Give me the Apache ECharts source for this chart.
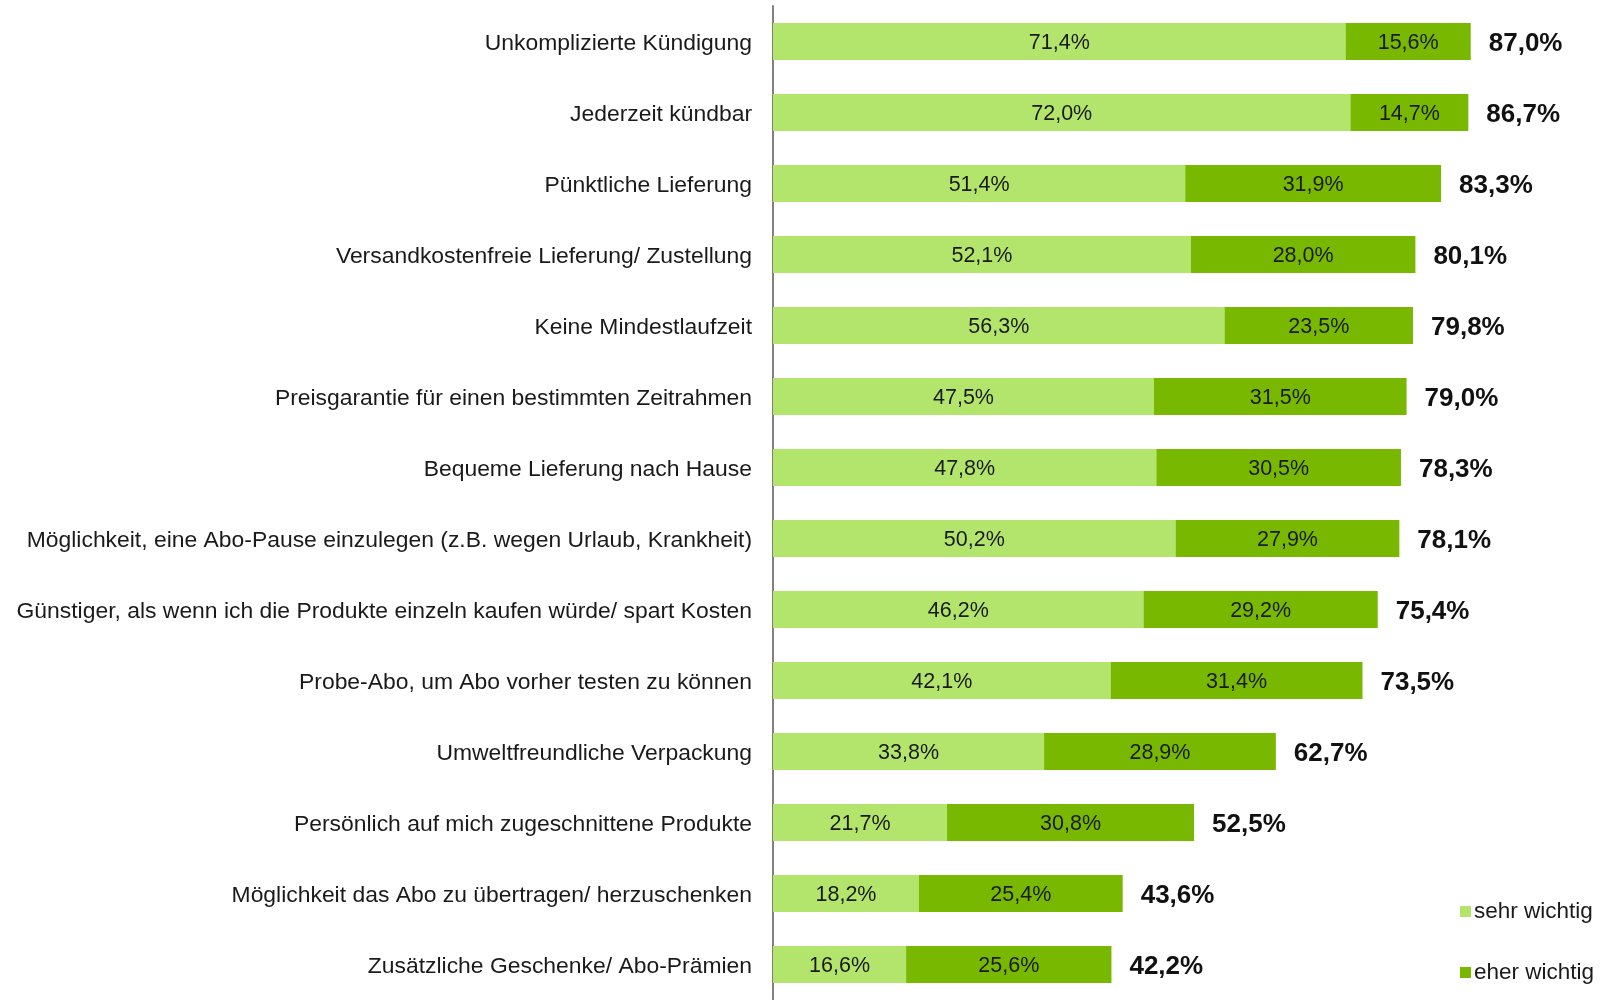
<!DOCTYPE html>
<html>
<head>
<meta charset="utf-8">
<script src="https://cdn.jsdelivr.net/npm/echarts@6/dist/echarts.min.js"></script>
<style>
  html, body { margin: 0; padding: 0; background: #fff; }
  #main { width: 1604px; height: 1000px; }
</style>
</head>
<body>
<div id="main"></div>
<script>
const categories = [
  'Unkomplizierte Kündigung',
  'Jederzeit kündbar',
  'Pünktliche Lieferung',
  'Versandkostenfreie Lieferung/ Zustellung',
  'Keine Mindestlaufzeit',
  'Preisgarantie für einen bestimmten Zeitrahmen',
  'Bequeme Lieferung nach Hause',
  'Möglichkeit, eine Abo-Pause einzulegen (z.B. wegen Urlaub, Krankheit)',
  'Günstiger, als wenn ich die Produkte einzeln kaufen würde/ spart Kosten',
  'Probe-Abo, um Abo vorher testen zu können',
  'Umweltfreundliche Verpackung',
  'Persönlich auf mich zugeschnittene Produkte',
  'Möglichkeit das Abo zu übertragen/ herzuschenken',
  'Zusätzliche Geschenke/ Abo-Prämien'
];
const sehrWichtig = [71.4, 72.0, 51.4, 52.1, 56.3, 47.5, 47.8, 50.2, 46.2, 42.1, 33.8, 21.7, 18.2, 16.6];
const eherWichtig = [15.6, 14.7, 31.9, 28.0, 23.5, 31.5, 30.5, 27.9, 29.2, 31.4, 28.9, 30.8, 25.4, 25.6];
const gesamt = [87.0, 86.7, 83.3, 80.1, 79.8, 79.0, 78.3, 78.1, 75.4, 73.5, 62.7, 52.5, 43.6, 42.2];

const fmt = v => v.toFixed(1).replace('.', ',') + '%';
const font = 'Liberation Sans, Arial, sans-serif';

let myChart = echarts.init(document.getElementById('main'));
myChart.setOption({
  animation: false,
  textStyle: { fontFamily: font },
  grid: { left: 773, width: 802, top: 6, height: 999, containLabel: false },
  legend: {
    orient: 'vertical',
    left: 1455,
    top: 895,
    itemWidth: 11,
    itemHeight: 11,
    itemGap: 38,
    icon: 'rect',
    data: ['sehr wichtig', 'eher wichtig'],
    textStyle: { fontSize: 22.5, color: '#1a1a1a', fontFamily: font, padding: [0, 0, 0, -2] }
  },
  xAxis: {
    type: 'value',
    min: 0,
    max: 100,
    show: false
  },
  yAxis: {
    type: 'category',
    inverse: true,
    data: categories,
    axisLine: { show: true, lineStyle: { color: '#808080', width: 2 } },
    axisTick: { show: false },
    axisLabel: {
      margin: 21,
      formatter: v => '{t|' + v + '}',
      rich: {
        t: { fontSize: 22.9, color: '#1a1a1a', fontFamily: font, padding: [5, 0, 0, 0] }
      }
    }
  },
  series: [
    {
      name: 'gesamt',
      type: 'bar',
      data: gesamt,
      barWidth: '52%',
      barGap: '-100%',
      itemStyle: { color: 'rgba(0,0,0,0)' },
      label: {
        show: true,
        position: 'right',
        distance: 18,
        offset: [0, 2],
        formatter: p => fmt(p.value),
        fontSize: 26,
        fontWeight: 'bold',
        color: '#111',
        fontFamily: font
      },
      silent: true
    },
    {
      name: 'sehr wichtig',
      type: 'bar',
      stack: 'total',
      data: sehrWichtig,
      barWidth: '52%',
      itemStyle: { color: '#b3e46b' },
      label: { show: true, position: 'inside', offset: [0, 2], formatter: p => fmt(p.value), fontSize: 21.5, color: '#1a1a1a', fontFamily: font }
    },
    {
      name: 'eher wichtig',
      type: 'bar',
      stack: 'total',
      data: eherWichtig,
      barWidth: '52%',
      itemStyle: { color: '#78b800' },
      label: { show: true, position: 'inside', offset: [0, 2], formatter: p => fmt(p.value), fontSize: 21.5, color: '#1a1a1a', fontFamily: font }
    }
  ]
});
</script>
</body>
</html>
